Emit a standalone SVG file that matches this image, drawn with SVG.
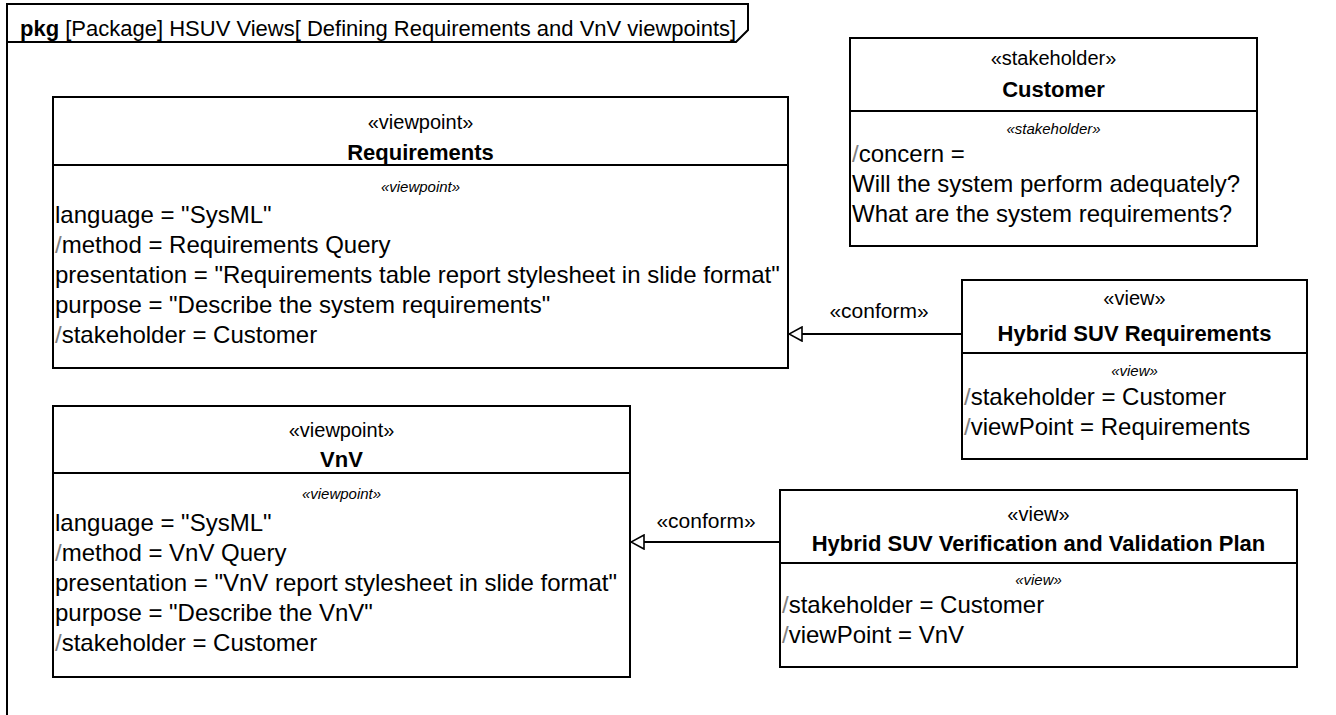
<svg xmlns="http://www.w3.org/2000/svg" width="1336" height="715" viewBox="0 0 1336 715">
<style>
text{font-family:"Liberation Sans",Arial,sans-serif;fill:#000}
.box{fill:#fff;stroke:#000;stroke-width:2}
.sep{stroke:#000;stroke-width:2}
.st{font-size:20px;text-anchor:middle}
.nm{font-size:22px;font-weight:bold;text-anchor:middle}
.it{font-size:15px;font-style:italic;text-anchor:middle}
.bd{font-size:24px}
.sl{fill:#808080}
.edge{stroke:#000;stroke-width:2;fill:none;marker-end:url(#tri)}
.lbl{font-size:21px;text-anchor:middle}
</style>
<defs>
<marker id="tri" viewBox="0 0 16 16" refX="15" refY="8" markerWidth="16" markerHeight="16" markerUnits="userSpaceOnUse" orient="auto">
<path d="M2,1 L15,8 L2,15 Z" fill="#fff" stroke="#000" stroke-width="1.6"/>
</marker>
</defs>
<rect width="1336" height="715" fill="#fff"/>
<g id="frame">
<path d="M7,715 V4 H748 V30 L736,42 H7" fill="none" stroke="#000" stroke-width="2"/>
<text x="20" y="36" style="font-size:22px"><tspan font-weight="bold">pkg</tspan>  [Package] HSUV Views[ Defining Requirements and VnV viewpoints]</text>
</g>
<g id="connectors">
<path class="edge" d="M962,334 H789"/>
<text class="lbl" x="879" y="318">«conform»</text>
<path class="edge" d="M780,542 H631"/>
<text class="lbl" x="706" y="528">«conform»</text>
</g>
<g id="requirements">
<rect class="box" x="53" y="97" width="735" height="271"/>
<line class="sep" x1="53" y1="165" x2="788" y2="165"/>
<text class="st" x="420.5" y="129">«viewpoint»</text>
<text class="nm" x="420.5" y="160">Requirements</text>
<text class="it" x="420.5" y="192">«viewpoint»</text>
<text class="bd" x="55" y="223">language = "SysML"</text>
<text class="bd" x="55" y="253"><tspan class="sl">/</tspan>method = Requirements Query</text>
<text class="bd" x="55" y="283">presentation = "Requirements table report stylesheet in slide format"</text>
<text class="bd" x="55" y="313">purpose = "Describe the system requirements"</text>
<text class="bd" x="55" y="343"><tspan class="sl">/</tspan>stakeholder = Customer</text>
</g>
<g id="customer">
<rect class="box" x="850" y="38" width="407" height="208"/>
<line class="sep" x1="850" y1="111" x2="1257" y2="111"/>
<text class="st" x="1053.5" y="65">«stakeholder»</text>
<text class="nm" x="1053.5" y="97">Customer</text>
<text class="it" x="1053.5" y="134">«stakeholder»</text>
<text class="bd" x="852" y="162"><tspan class="sl">/</tspan>concern =</text>
<text class="bd" x="852" y="192">Will the system perform adequately?</text>
<text class="bd" x="852" y="222">What are the system requirements?</text>
</g>
<g id="hsuv-requirements">
<rect class="box" x="962" y="280" width="345" height="179"/>
<line class="sep" x1="962" y1="353" x2="1307" y2="353"/>
<text class="st" x="1134.5" y="305">«view»</text>
<text class="nm" x="1134.5" y="341">Hybrid SUV Requirements</text>
<text class="it" x="1134.5" y="376">«view»</text>
<text class="bd" x="964" y="405"><tspan class="sl">/</tspan>stakeholder = Customer</text>
<text class="bd" x="964" y="435"><tspan class="sl">/</tspan>viewPoint = Requirements</text>
</g>
<g id="vnv">
<rect class="box" x="53" y="406" width="577" height="271"/>
<line class="sep" x1="53" y1="473" x2="630" y2="473"/>
<text class="st" x="341.5" y="437">«viewpoint»</text>
<text class="nm" x="341.5" y="467">VnV</text>
<text class="it" x="341.5" y="499">«viewpoint»</text>
<text class="bd" x="55" y="531">language = "SysML"</text>
<text class="bd" x="55" y="561"><tspan class="sl">/</tspan>method = VnV Query</text>
<text class="bd" x="55" y="591">presentation = "VnV report stylesheet in slide format"</text>
<text class="bd" x="55" y="621">purpose = "Describe the VnV"</text>
<text class="bd" x="55" y="651"><tspan class="sl">/</tspan>stakeholder = Customer</text>
</g>
<g id="hsuv-vv-plan">
<rect class="box" x="780" y="490" width="517" height="177"/>
<line class="sep" x1="780" y1="563" x2="1297" y2="563"/>
<text class="st" x="1038.5" y="521">«view»</text>
<text class="nm" x="1038.5" y="551">Hybrid SUV Verification and Validation Plan</text>
<text class="it" x="1038.5" y="585">«view»</text>
<text class="bd" x="782" y="613"><tspan class="sl">/</tspan>stakeholder = Customer</text>
<text class="bd" x="782" y="643"><tspan class="sl">/</tspan>viewPoint = VnV</text>
</g>
</svg>
